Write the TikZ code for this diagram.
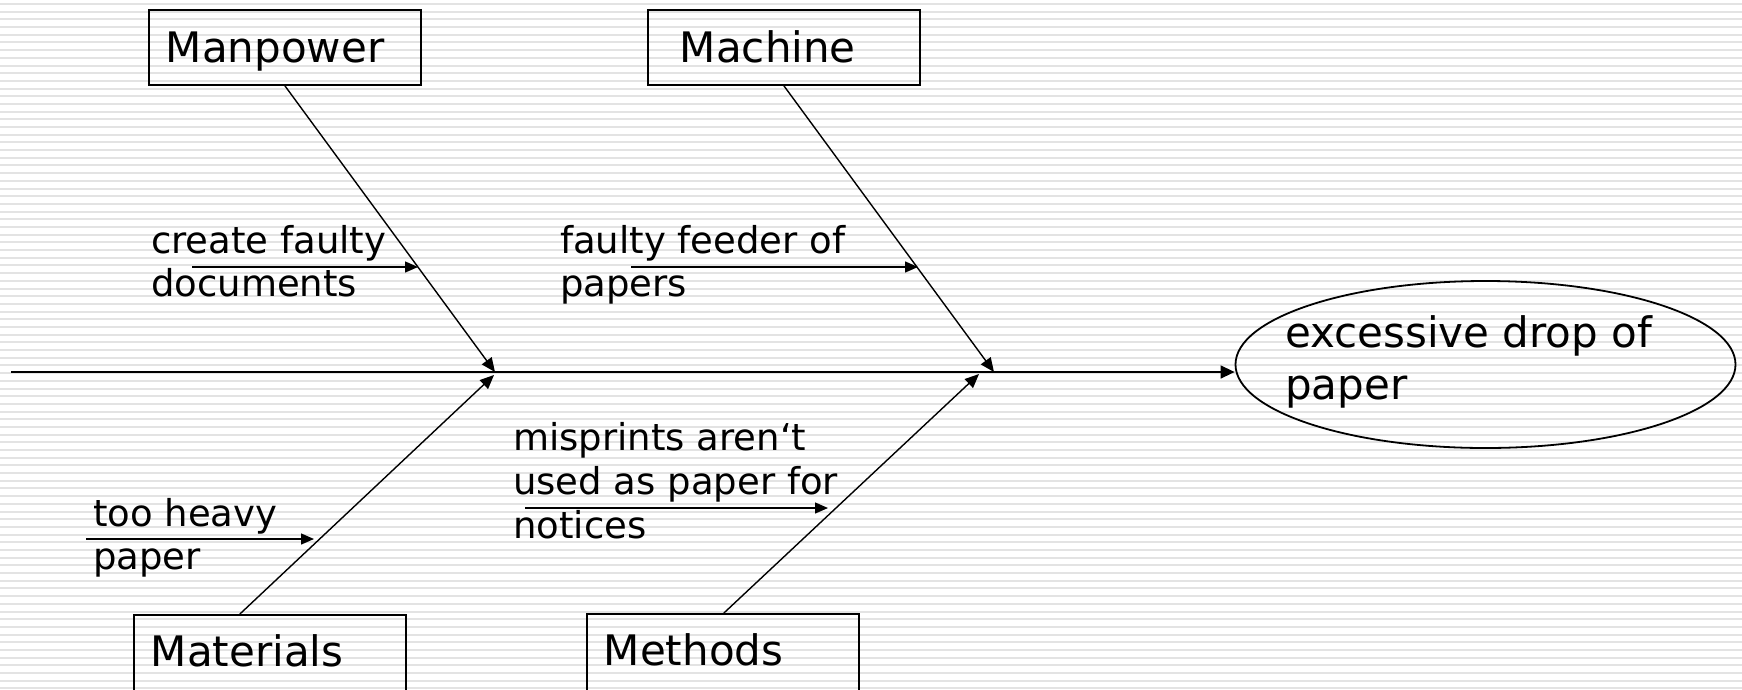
\documentclass[tikz,border=0pt]{standalone}
\usepackage{fontspec}
\setmainfont{DejaVu Sans}
\usetikzlibrary{arrows.meta,shapes.geometric}

\begin{document}
\begin{tikzpicture}[x=1pt,y=-1pt,
  stripe/.style={draw=gray!22, line width=2pt},
  catbox/.style={draw=black, line width=1.8pt, anchor=north west,
    inner xsep=17pt, inner ysep=0pt, text width=238pt, align=left,
    minimum height=75pt, text height=31pt, text depth=0pt,
    font=\fontsize{42}{49}\selectfont},
  lowbox/.style={catbox, minimum height=80pt, text depth=7pt},
  cause/.style={anchor=base west, inner sep=0pt, font=\fontsize{37}{43.5}\selectfont},
  bone/.style={line width=1.4pt, -{Triangle[length=14pt,width=12pt]}},
  twig/.style={line width=1.4pt, -{Triangle[length=13pt,width=11pt]}}
]
% page frame and ruled background
\useasboundingbox (0,0) rectangle (1742,689);
\fill[white] (0,0) rectangle (1742,689);
\foreach \k in {0,...,89}
  \draw[stripe] (0,{4+7.69*\k}) -- (1742,{4+7.69*\k});

% category boxes
\node[catbox] (manpower) at (148,9) {Manpower};
\node[catbox] (machine) at (647,9) {\hspace*{15pt}Machine};
\node[lowbox] (materials) at (133,614) {Materials};
\node[lowbox] (methods) at (586,613) {Methods};

% effect
\node[draw=black, line width=1.8pt, ellipse, minimum width=500pt, minimum height=167pt,
  inner sep=0pt] (effect) at (1485.5,364.5) {};
\node[anchor=base west, inner sep=0pt, font=\fontsize{42}{52}\selectfont] (effecttext) at (1285,347)
  {\begin{tabular}[t]{@{}l@{}}excessive drop of\\paper\end{tabular}};

% spine
\coordinate (tail) at (11,372);
\coordinate (jmp) at (495,372);
\coordinate (jma) at (494,375);
\coordinate (jmc) at (994,372);
\coordinate (jme) at (979,374);
\draw[bone, -{Triangle[length=14pt,width=13pt]}] (tail) -- (tail -| effect.west);

% main bones
\draw[bone] (manpower.south) -- (jmp);
\draw[bone] (machine.south) -- (jmc);
\draw[bone] ([xshift=-30pt]materials.north) -- (jma);
\draw[bone] ([xshift=1pt]methods.north) -- (jme);

% causes
\node[cause] (cfaulty) at (151,253)
  {\begin{tabular}[t]{@{}l@{}}create faulty\\documents\end{tabular}};
\node[cause] (feeder) at (560,253)
  {\begin{tabular}[t]{@{}l@{}}faulty feeder of\\papers\end{tabular}};
\node[cause] (heavy) at (93,526)
  {\begin{tabular}[t]{@{}l@{}}too heavy\\paper\end{tabular}};
\node[cause, font=\fontsize{37}{44}\selectfont] (misprints) at (513,450)
  {\begin{tabular}[t]{@{}l@{}}misprints aren‘t\\used as paper for\\notices\end{tabular}};

% cause arrows onto the bones
\coordinate (cfa) at (192,267);  \coordinate (cfb) at (418,267);
\coordinate (ffa) at (631,267);  \coordinate (ffb) at (918,267);
\coordinate (tha) at (86,539);   \coordinate (thb) at (314,539);
\coordinate (mpa) at (525,508);  \coordinate (mpb) at (828,508);
\draw[twig] (cfa) -- (cfb);
\draw[twig] (ffa) -- (ffb);
\draw[twig] (tha) -- (thb);
\draw[twig] (mpa) -- (mpb);
\end{tikzpicture}
\end{document}
